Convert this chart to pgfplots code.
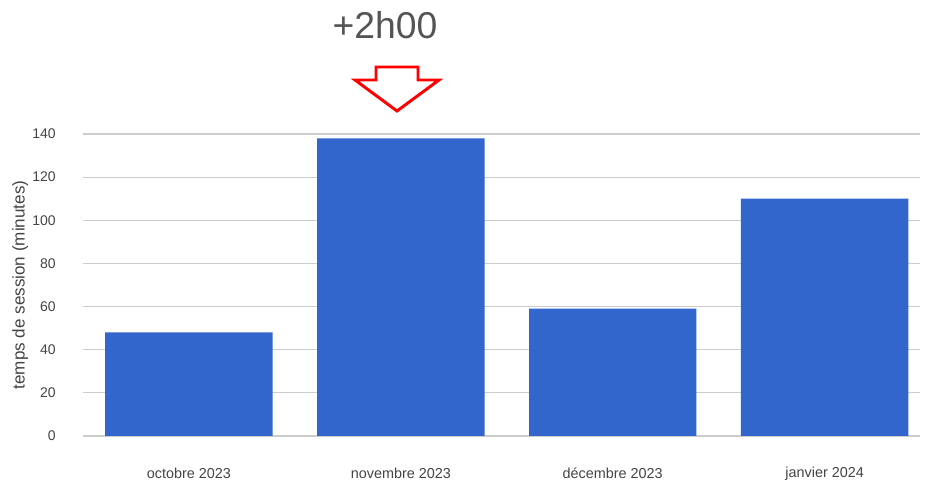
\documentclass[border=0pt]{standalone}
\usepackage{pgfplots}
\pgfplotsset{compat=1.18}
\usepackage{fontspec}
\setmainfont{Liberation Sans}
\definecolor{barblue}{HTML}{3366CC}
\definecolor{txt}{HTML}{444444}
\definecolor{gridc}{HTML}{CCCCCC}
\begin{document}
\begin{tikzpicture}[x=0.75pt,y=0.75pt]
\path[use as bounding box] (0,0) rectangle (925,481);
\begin{axis}[
  at={(83*0.75pt,45*0.75pt)}, anchor=south west,
  scale only axis, width=837*0.75pt, height=302*0.75pt,
  xmin=-0.5, xmax=3.45, ymin=0, ymax=140,
  ytick={0,20,...,140},
  xtick={0,1,2,3},
  xticklabels={octobre 2023,novembre 2023,décembre 2023,janvier 2024},
  axis line style={draw=none},
  tick style={draw=none},
  ymajorgrids, xmajorgrids=false, grid style={gridc, line width=0.8pt},
  ticklabel style={font=\fontsize{10.5}{12}\selectfont, text=txt},
  xticklabel style={font=\fontsize{10.8}{12}\selectfont, anchor=center, yshift=-28pt},
  /pgf/number format/assume math mode=true,
  yticklabel style={anchor=east, xshift=-17pt},
  ylabel={temps de session (minutes)},
  ylabel style={font=\fontsize{12.8}{14}\selectfont, text=txt, at={(rel axis cs:0,0.5)}, anchor=center, yshift=47pt},
  clip=false,
]
\addplot[ybar, bar width=0.79, fill=barblue, draw=none] coordinates {(0,48) (1,138) (2,59) (3,110)};
\end{axis}
\node[text=black!67, font=\fontsize{28}{32}\selectfont] at (385,456) {+2h00};
\draw[red, line width=2.2pt, line join=miter] (376,414) -- (418,414) -- (418,401) -- (439,401) -- (397,370) -- (355,401) -- (376,401) -- cycle;
\end{tikzpicture}
\end{document}
